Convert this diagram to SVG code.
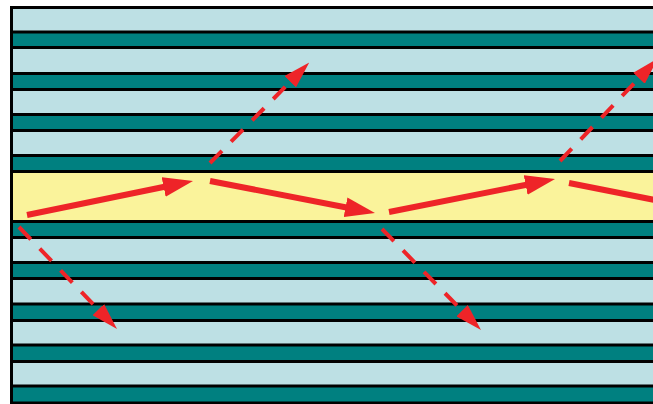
<svg xmlns="http://www.w3.org/2000/svg" width="653" height="404" viewBox="0 0 653 404">
<style>
.light{fill:#bde0e4}
.teal{fill:#008080}
.core{fill:#faf39b}
.sep{stroke:#000;stroke-width:3;fill:none}
.ray{stroke:#ee2428;stroke-width:6;fill:none}
.leak{stroke:#ee2428;stroke-width:4;fill:none;stroke-dasharray:17 13}
</style>
<defs>
<marker id="hs" markerUnits="userSpaceOnUse" viewBox="0 0 30 20" markerWidth="30" markerHeight="20" refX="1" refY="10" orient="auto">
<path d="M0,0 L30,10 L0,20 z" fill="#ee2428"/>
</marker>
<marker id="hd" markerUnits="userSpaceOnUse" viewBox="0 0 27 16" markerWidth="27" markerHeight="16" refX="1" refY="8" orient="auto">
<path d="M0,0 L27,8 L0,16 z" fill="#ee2428"/>
</marker>
</defs>
<rect x="0" y="0" width="653" height="404" fill="#fff"/>
<g id="cladding-top">
<rect class="light" x="11" y="7" width="642" height="25"/>
<rect class="teal" x="11" y="32" width="642" height="15.5"/>
<rect class="light" x="11" y="47.5" width="642" height="26"/>
<rect class="teal" x="11" y="73.5" width="642" height="16"/>
<rect class="light" x="11" y="89.5" width="642" height="25"/>
<rect class="teal" x="11" y="114.5" width="642" height="16"/>
<rect class="light" x="11" y="130.5" width="642" height="25"/>
<rect class="teal" x="11" y="155.5" width="642" height="16"/>
</g>
<g id="core">
<rect class="core" x="11" y="171.5" width="642" height="50"/>
</g>
<g id="cladding-bottom">
<rect class="teal" x="11" y="221.5" width="642" height="16"/>
<rect class="light" x="11" y="237.5" width="642" height="25"/>
<rect class="teal" x="11" y="262.5" width="642" height="16"/>
<rect class="light" x="11" y="278.5" width="642" height="25.5"/>
<rect class="teal" x="11" y="304" width="642" height="16.5"/>
<rect class="light" x="11" y="320.5" width="642" height="24.5"/>
<rect class="teal" x="11" y="345" width="642" height="16.5"/>
<rect class="light" x="11" y="361.5" width="642" height="24.5"/>
<rect class="teal" x="11" y="386" width="642" height="18"/>
</g>
<g id="separators">
<path class="sep" d="M10,7.5H653 M10,32H653 M10,47.5H653 M10,73.5H653 M10,89.5H653 M10,114.5H653 M10,130.5H653 M10,155.5H653 M10,171.5H653 M10,221.5H653 M10,237.5H653 M10,262.5H653 M10,278.5H653 M10,304H653 M10,320.5H653 M10,345H653 M10,361.5H653 M10,386H653 M10,403H653"/>
<path class="sep" d="M11.5,6V404"/>
</g>
<g id="connectors">
<line class="ray" x1="27" y1="215" x2="164.6" y2="186.8" marker-end="url(#hs)"/>
<line class="ray" x1="210" y1="181" x2="346.5" y2="207.5" marker-end="url(#hs)"/>
<line class="ray" x1="389" y1="212" x2="526.6" y2="184.7" marker-end="url(#hs)"/>
<line class="ray" x1="569" y1="183" x2="670" y2="203"/>
<line class="leak" x1="19" y1="227" x2="99" y2="310.3" marker-end="url(#hd)"/>
<line class="leak" x1="210" y1="163" x2="291" y2="81" marker-end="url(#hd)"/>
<line class="leak" x1="382" y1="229" x2="462.8" y2="311.4" marker-end="url(#hd)"/>
<line class="leak" x1="560" y1="161" x2="639.7" y2="77.5" marker-end="url(#hd)"/>
</g>
</svg>
